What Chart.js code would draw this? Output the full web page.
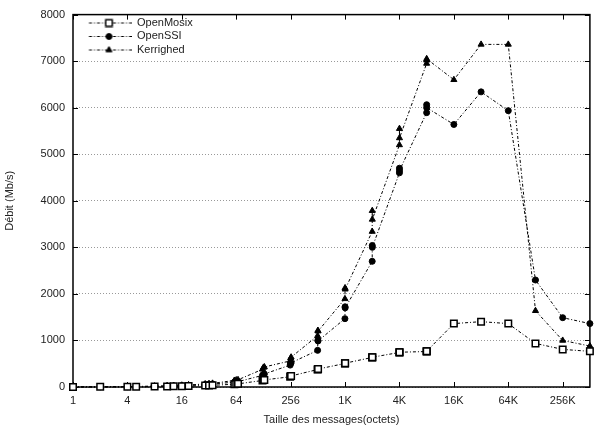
<!DOCTYPE html>
<html>
<head>
<meta charset="utf-8">
<title>Débit</title>
<script src="https://cdn.jsdelivr.net/npm/chart.js@4.4.1/dist/chart.umd.min.js"></script>
<style>
  html, body { margin: 0; padding: 0; background: #fff; }
</style>
</head>
<body>
<canvas id="chart" width="596" height="427"></canvas>
<script>
// message sizes (octets)
const sizes = [1, 2, 4, 5, 8, 11, 13, 16, 19, 29, 32, 35, 61, 64, 67, 125, 128, 131,
  253, 256, 259, 509, 512, 515, 1021, 1024, 1027, 2045, 2048, 2051, 4093, 4096, 4099,
  8189, 8192, 8195, 16384, 32768, 65536, 131072, 262144, 524288];

// throughput (Mb/s)
const openMosix = [2, 3, 5, 6, 9, 12, 14, 17, 20, 30, 33, 36, 60, 65, 68, 140, 150, 152,
  220, 234, 238, 375, 383, 386, 505, 510, 512, 635, 638, 640, 742, 745, 747,
  762, 766, 768, 1362, 1404, 1362, 936, 808, 766];
const openSSI = [2, 4, 8, 10, 15, 20, 24, 30, 35, 52, 58, 62, 105, 110, 115, 250, 270, 280,
  470, 510, 520, 787, 1000, 990, 1468, 1723, 1700, 2700, 3040, 3000, 4600, 4700, 4650,
  5894, 6064, 6000, 5640, 6340, 5936, 2298, 1489, 1362];
const kerrighed = [2, 4, 9, 11, 18, 25, 30, 37, 44, 65, 72, 78, 140, 150, 155, 380, 420, 430,
  560, 617, 640, 1100, 1213, 1200, 1894, 2128, 2100, 3340, 3787, 3600, 5200, 5550, 5350,
  6950, 7020, 7050, 6600, 7360, 7360, 1638, 1000, 880];

const xTickValues = [1, 4, 16, 64, 256, 1024, 4096, 16384, 65536, 262144];
const xTickLabels = ['1', '4', '16', '64', '256', '1K', '4K', '16K', '64K', '256K'];

const DASH = [3, 2, 1, 2];

Chart.defaults.font.family = "'Liberation Sans', Arial, sans-serif";
Chart.defaults.font.size = 11;
Chart.defaults.color = '#222';

const series = [
  { label: 'OpenMosix', values: openMosix, style: 'rect', radius: 4.6, fill: '#fff', border: 1.5 },
  { label: 'OpenSSI', values: openSSI, style: 'circle', radius: 3, fill: '#000', border: 1 },
  { label: 'Kerrighed', values: kerrighed, style: 'triangle', radius: 3.5, fill: '#000', border: 1 }
];

// little line + marker picture for the legend
function legendSample(s) {
  const c = document.createElement('canvas');
  c.width = 56;
  c.height = 10;
  const g = c.getContext('2d');
  g.strokeStyle = '#000';
  g.lineWidth = 1;
  g.setLineDash(DASH);
  g.beginPath();
  g.moveTo(13.5, 5.5);
  g.lineTo(56, 5.5);
  g.stroke();
  g.setLineDash([]);
  g.fillStyle = s.fill;
  g.lineWidth = s.border;
  Chart.helpers.drawPoint(g, { pointStyle: s.style, radius: s.radius, borderWidth: s.border, rotation: 0 }, 33.5, 5.5);
  return c;
}

const framePlugin = {
  id: 'frame',
  beforeDatasetsDraw(chart) {
    const { ctx, chartArea: a, scales } = chart;
    ctx.save();
    ctx.strokeStyle = '#000';
    ctx.lineWidth = 1;
    ctx.beginPath();
    xTickValues.forEach(v => {
      const px = Math.round(scales.x.getPixelForValue(v)) + 0.5;
      ctx.moveTo(px, a.bottom); ctx.lineTo(px, a.bottom - 5);
      ctx.moveTo(px, a.top); ctx.lineTo(px, a.top + 5);
    });
    scales.y.ticks.forEach(t => {
      const py = Math.round(scales.y.getPixelForValue(t.value)) + 0.5;
      ctx.moveTo(a.left, py); ctx.lineTo(a.left + 5, py);
      ctx.moveTo(a.right, py); ctx.lineTo(a.right - 5, py);
    });
    ctx.stroke();
    ctx.lineWidth = 1.5;
    ctx.strokeRect(a.left, a.top, a.right - a.left, a.bottom - a.top);
    ctx.restore();
  }
};

new Chart(document.getElementById('chart'), {
  type: 'line',
  data: {
    datasets: series.map(s => ({
      label: s.label,
      data: sizes.map((x, i) => ({ x, y: s.values[i] })),
      borderColor: '#000',
      borderWidth: 1,
      borderDash: DASH,
      pointStyle: s.style,
      pointRadius: s.radius,
      pointBackgroundColor: s.fill,
      pointBorderColor: '#000',
      pointBorderWidth: s.border,
      fill: false,
      tension: 0,
      clip: false
    }))
  },
  options: {
    responsive: false,
    animation: false,
    devicePixelRatio: 1,
    events: [],
    layout: { padding: { top: 11, right: 6, bottom: 0, left: 0 } },
    plugins: {
      tooltip: { enabled: false },
      legend: {
        position: 'chartArea',
        align: 'start',
        title: { display: true, text: '', font: { size: 1, lineHeight: 1 }, padding: { top: 13.5, bottom: 0 } },
        labels: {
          usePointStyle: true,
          pointStyleWidth: 56,
          padding: 2.5,
          color: '#222',
          font: { size: 11 },
          generateLabels: chart => series.map((s, i) => ({
            text: s.label,
            pointStyle: legendSample(s),
            datasetIndex: i,
            hidden: false,
            lineWidth: 0,
            fillStyle: '#000',
            strokeStyle: '#000'
          }))
        }
      }
    },
    scales: {
      x: {
        type: 'logarithmic',
        min: 1,
        max: 524288,
        afterBuildTicks: scale => { scale.ticks = xTickValues.map(v => ({ value: v })); },
        afterFit: scale => { scale.height = 40; },
        ticks: {
          autoSkip: false,
          maxRotation: 0,
          padding: 7,
          callback: (v, i) => xTickLabels[i]
        },
        grid: { display: false, drawTicks: false },
        border: { display: false },
        title: { display: true, text: 'Taille des messages(octets)', padding: { top: 0, bottom: 0 } }
      },
      y: {
        min: 0,
        max: 8000,
        afterFit: scale => { scale.width = 73; },
        ticks: { stepSize: 1000, padding: 8, callback: v => String(v) },
        grid: { color: '#999', drawTicks: false, lineWidth: 1 },
        border: { display: false, dash: [1, 2] },
        title: { display: true, text: 'Débit (Mb/s)', padding: { top: 3.4, bottom: 0 } }
      }
    }
  },
  plugins: [framePlugin]
});
</script>
</body>
</html>
